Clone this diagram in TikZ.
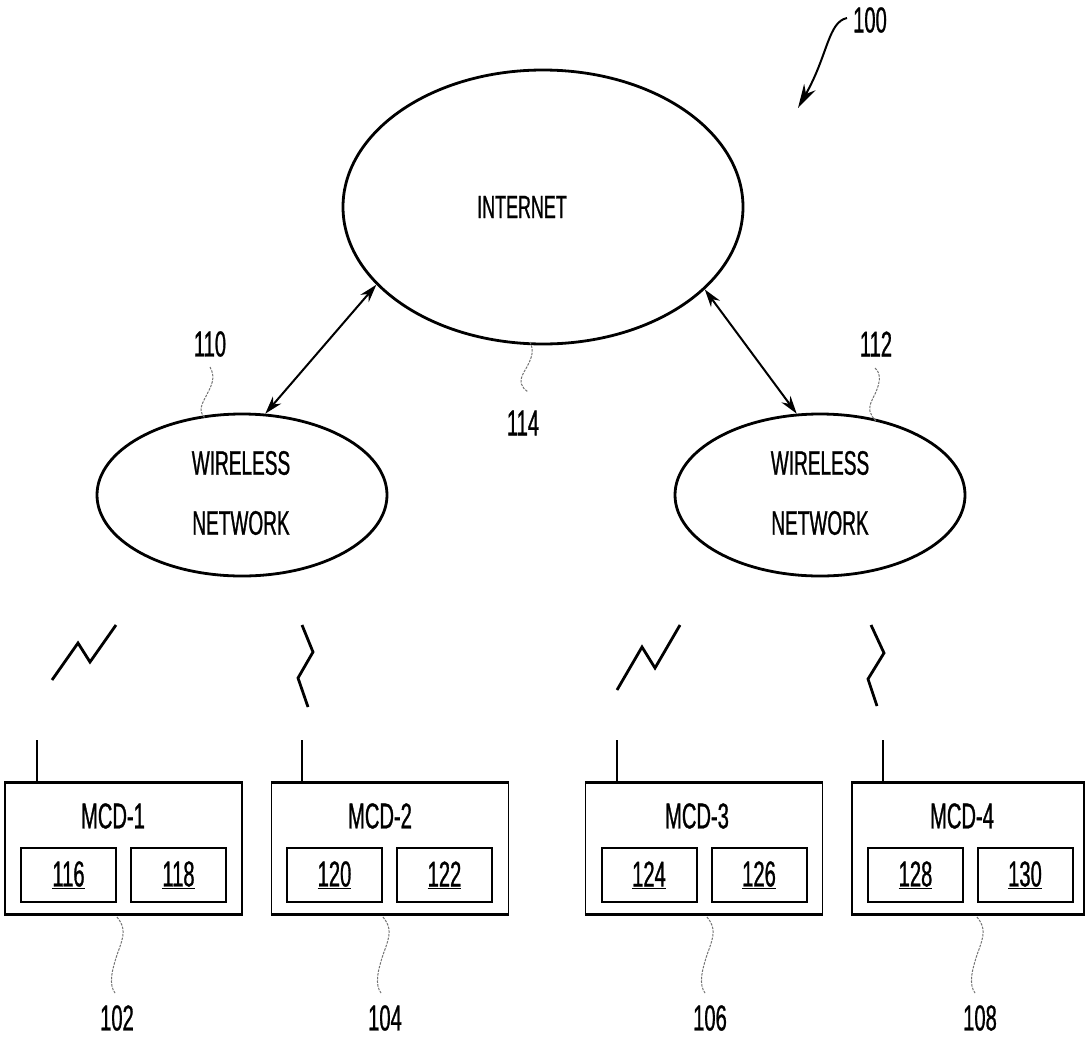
\documentclass[tikz,border=0pt]{standalone}
\usepackage{fontspec}
\setmainfont{Liberation Sans}[FakeStretch=0.56,FakeBold=0.8]
\usetikzlibrary{shapes.geometric,arrows.meta}
\begin{document}
\begin{tikzpicture}[x=1pt,y=-1pt,
  lbl/.style={font=\fontsize{36}{40}\selectfont, inner sep=0pt},
  cloud/.style={ellipse, draw, line width=2.8pt, inner sep=0pt},
  ctext/.style={font=\fontsize{34}{60}\selectfont, align=center, inner sep=0pt},
  mcdbox/.style={draw, line width=1.2pt, minimum width=237pt, minimum height=131pt, inner sep=0pt},
  subbox/.style={draw, line width=2pt, minimum width=95pt, minimum height=54pt, inner sep=0pt, font=\fontsize{36}{40}\selectfont},
  edge/.style={line width=3pt},
  bolt/.style={line width=2.8pt, line join=miter},
  ant/.style={line width=1.3pt},
  leader/.style={line width=1pt, black!55, dash pattern=on 2.5pt off 1.2pt},
  dbl/.style={line width=2pt, {Stealth[length=18pt,width=11pt]}-{Stealth[length=18pt,width=11pt]}}
]
\useasboundingbox (0,0) rectangle (1086,1036);

% clouds
\node[cloud, minimum width=400pt, minimum height=274pt] (inet) at (543,207) {};
\node[cloud, minimum width=290pt, minimum height=162pt] (wl1) at (242,495) {};
\node[cloud, minimum width=290pt, minimum height=162pt] (wl2) at (820,495) {};
\node[ctext, font=\fontsize{32}{40}\selectfont] (tinet) at (522,207) {INTERNET};
\node[ctext] (twl1) at (241,493) {WIRELESS\\NETWORK};
\node[ctext] (twl2) at (820,493) {WIRELESS\\NETWORK};

\draw[dbl] (inet.205) -- (wl1.74);
\draw[dbl] (inet.333) -- (wl2.106);

% reference labels
\node[lbl] (l100) at (870,20) {100};
\node[lbl] (l110) at (210,344) {110};
\node[lbl] (l112) at (876,344) {112};
\node[lbl] (l114) at (523,423) {114};

\coordinate (t100) at (798,108);
\draw[line width=2pt, -{Stealth[length=24pt,width=13pt]}] (l100.west) ++(-6,-2) .. controls (828,22) and (828,55) .. (t100);

\draw[leader] (210,367) .. controls (216,378) and (212,385) .. (204,400) .. controls (199,410) and (201,414) .. (205,418);
\draw[leader] (875,368) .. controls (882,374) and (880,385) .. (873,398) .. controls (867,409) and (870,415) .. (876,421);
\draw[leader] (530,342) .. controls (535,352) and (531,360) .. (524,372) .. controls (518,382) and (522,388) .. (528,392);

% bolts
\draw[bolt] (52,680) -- (78,643) -- (90,662) -- (116,625);
\draw[bolt] (302,625) -- (313,652) -- (298,678) -- (308,707);
\draw[bolt] (617,690) -- (642,647) -- (655,668) -- (680,625);
\draw[bolt] (871,625) -- (884,653) -- (868,679) -- (877,706);

% devices
\node[mcdbox] (m1) at (123.5,848.5) {};
\node[mcdbox] (m2) at (390,848.5) {};
\node[mcdbox] (m3) at (704,848.5) {};
\node[mcdbox, minimum width=232pt] (m4) at (968,848.5) {};
\foreach \m in {m1,m2,m3,m4}{
  \draw[edge] (\m.north west) -- (\m.north east);
  \draw[edge] (\m.south west) -- (\m.south east);
}
\node[lbl] (n1) at (113,816) {MCD-1};
\node[lbl] (n2) at (380,816) {MCD-2};
\node[lbl] (n3) at (697,816) {MCD-3};
\node[lbl] (n4) at (962,816) {MCD-4};

\node[subbox] (b116) at (68.5,875) {\underline{116}};
\node[subbox] (b118) at (178.5,875) {\underline{118}};
\node[subbox] (b120) at (334.5,875) {\underline{120}};
\node[subbox] (b122) at (444.5,875) {\underline{122}};
\node[subbox] (b124) at (649,875) {\underline{124}};
\node[subbox] (b126) at (759,875) {\underline{126}};
\node[subbox] (b128) at (915.5,875) {\underline{128}};
\node[subbox] (b130) at (1025,875) {\underline{130}};

% antennas
\coordinate (a1) at (37,740);
\coordinate (a2) at (302,740);
\coordinate (a3) at (617,740);
\coordinate (a4) at (883,740);
\draw[ant] (a1) -- (a1 |- m1.north);
\draw[ant] (a2) -- (a2 |- m2.north);
\draw[ant] (a3) -- (a3 |- m3.north);
\draw[ant] (a4) -- (a4 |- m4.north);

% bottom labels
\node[lbl] (l102) at (117,1018) {102};
\node[lbl] (l104) at (385,1018) {104};
\node[lbl] (l106) at (710,1018) {106};
\node[lbl] (l108) at (980,1018) {108};
\draw[leader] (117,917) .. controls (126,928) and (124,936) .. (118,952) .. controls (111,972) and (109,985) .. (115,993);
\draw[leader] (383,917) .. controls (392,928) and (390,936) .. (384,952) .. controls (377,972) and (375,985) .. (381,993);
\draw[leader] (707,917) .. controls (716,928) and (714,936) .. (708,952) .. controls (701,972) and (699,985) .. (705,993);
\draw[leader] (977,917) .. controls (986,928) and (984,936) .. (978,952) .. controls (971,972) and (969,985) .. (975,993);
\end{tikzpicture}
\end{document}
